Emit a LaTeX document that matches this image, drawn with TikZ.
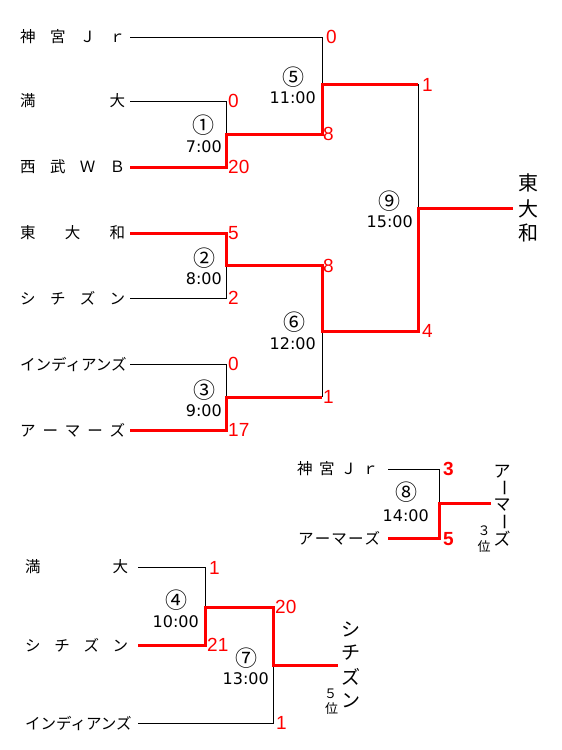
\documentclass[tikz,border=0pt]{standalone}
\usepackage{fontspec}
\setmainfont{Liberation Sans}
\newfontfamily\jp{Noto Sans CJK JP}
\newfontfamily\dv{DejaVu Sans}
\begin{document}
\begin{tikzpicture}[x=1pt,y=-1pt,
  bl/.style={line width=1pt, black},
  rd/.style={line width=3pt, red},
  team/.style={anchor=west, inner sep=0pt, font=\jp\fontsize{15.5}{15.5}\selectfont},
  score/.style={anchor=west, inner sep=0pt, text=red, font=\fontsize{19}{19}\selectfont},
  mno/.style={inner sep=0pt, font=\jp\fontsize{22}{22}\selectfont},
  mtime/.style={anchor=east, inner sep=0pt, font=\dv\fontsize{16}{16}\selectfont},
  vch/.style={inner sep=0pt},
  rank/.style={inner sep=0pt, font=\jp\fontsize{13}{13}\selectfont}]
\fill[white] (0,0) rectangle (562,750);
\useasboundingbox (0,0) rectangle (562,750);

% ---------- main bracket: team names
\node[team] (n1) at (20,37)  {\makebox[105pt][l]{神\hfill 宮\hfill Ｊ\hfill ｒ}};
\node[team] (n2) at (20,101) {\makebox[105pt][l]{満\hfill 大}};
\node[team] (n3) at (20,167) {\makebox[105pt][l]{西\hfill 武\hfill Ｗ\hfill Ｂ}};
\node[team] (n4) at (20,233) {\makebox[105pt][l]{東\hfill 大\hfill 和}};
\node[team] (n5) at (20,298) {\makebox[105pt][l]{シ\hfill チ\hfill ズ\hfill ン}};
\node[team] (n6) at (20,364) {\makebox[105pt][l]{インディアンズ}};
\node[team] (n7) at (20,430) {\makebox[105pt][l]{ア\hfill ー\hfill マ\hfill ー\hfill ズ}};

\coordinate (s1) at (130,37);
\coordinate (s2) at (130,101);
\coordinate (s3) at (130,167);
\coordinate (s4) at (130,233);
\coordinate (s5) at (130,298);
\coordinate (s6) at (130,364);
\coordinate (s7) at (130,430);
\coordinate (j1) at (226,134);
\coordinate (j2) at (226,265);
\coordinate (j3) at (226,397);
\coordinate (j5) at (322,84);
\coordinate (j6) at (322,331);
\coordinate (j9) at (418,208);
\coordinate (w9) at (513,208);

\draw[bl] (s1) -| (j5);
\draw[bl] (s2) -| (j1);
\draw[bl] (s5) -| (j2);
\draw[bl] (s6) -| (j3);
\draw[bl] (j3 -| j6) -- (j6);
\draw[bl] (j5 -| j9) -- (j9);
\draw[rd] (s3) -| (j1) -- (j1 -| j5) -- (j5) -- (j5 -| j9);
\draw[rd] (s4) -| (j2) -- (j2 -| j6) -- (j6) -- (j6 -| j9) -- (j9) -- (w9);
\draw[rd] (s7) -| (j3) -- (j3 -| j6);

% scores
\node[score] (c1) at (326,37) {0};
\node[score] (c2) at (228,101) {0};
\node[score] (c3) at (228,167) {20};
\node[score] (c4) at (323,134) {8};
\node[score] (c5) at (422,85) {1};
\node[score] (c6) at (228,233) {5};
\node[score] (c7) at (228,298) {2};
\node[score] (c8) at (323,266) {8};
\node[score] (c9) at (228,364) {0};
\node[score] (c10) at (228,430) {17};
\node[score] (c11) at (323,397) {1};
\node[score] (c12) at (422,331) {4};

% match labels
\node[mno] (m1) at (203.5,125.5) {①};
\node[mtime] (t1) at (222,147) {7:00};
\node[mno] (m2) at (204.5,258) {②};
\node[mtime] (t2) at (222,278.5) {8:00};
\node[mno] (m3) at (204,390) {③};
\node[mtime] (t3) at (222,411) {9:00};
\node[mno] (m5) at (293.5,77) {⑤};
\node[mtime] (t5) at (316,98) {11:00};
\node[mno] (m6) at (294,322.5) {⑥};
\node[mtime] (t6) at (316,343.5) {12:00};
\node[mno] (m9) at (389.5,201) {⑨};
\node[mtime] (t9) at (413,222) {15:00};

% champion
\node[vch, font=\jp\fontsize{20}{20}\selectfont] (v1) at (528,183) {東};
\node[vch, font=\jp\fontsize{20}{20}\selectfont] (v2) at (528,208.5) {大};
\node[vch, font=\jp\fontsize{20}{20}\selectfont] (v3) at (528,232.5) {和};

% ---------- third place
\node[team] (p1) at (297,469) {\makebox[81pt][l]{神\hfill 宮\hfill Ｊ\hfill ｒ}};
\node[team] (p2) at (298,538) {\makebox[82pt][l]{ア\hfill ー\hfill マ\hfill ー\hfill ズ}};
\coordinate (q1) at (388,469);
\coordinate (q2) at (388,538);
\coordinate (k8) at (439,503);
\coordinate (w8) at (491,503);
\draw[bl] (q1) -| (k8);
\draw[rd] (q2) -| (k8) -- (w8);
\node[score, font=\bfseries\fontsize{19}{19}\selectfont] (c13) at (443,469) {3};
\node[score, font=\bfseries\fontsize{19}{19}\selectfont] (c14) at (443,539) {5};
\node[mno] (m8) at (406.5,492.5) {⑧};
\node[mtime] (t8) at (429,515.5) {14:00};
\node[vch, font=\jp\fontsize{17}{17}\selectfont] (x1) at (502,471.5) {ア};
\node[vch, font=\jp\fontsize{17}{17}\selectfont, rotate=-90] (x2) at (502,488) {ー};
\node[vch, font=\jp\fontsize{17}{17}\selectfont] (x3) at (502,505) {マ};
\node[vch, font=\jp\fontsize{17}{17}\selectfont, rotate=-90] (x4) at (502,522) {ー};
\node[vch, font=\jp\fontsize{17}{17}\selectfont] (x5) at (502,539) {ズ};
\node[rank] (r3a) at (484,531) {３};
\node[rank] (r3b) at (484,547) {位};

% ---------- fifth place
\node[team] (b1) at (25,567) {\makebox[103pt][l]{満\hfill 大}};
\node[team] (b2) at (25,645) {\makebox[103pt][l]{シ\hfill チ\hfill ズ\hfill ン}};
\node[team] (b3) at (25,723) {\makebox[103pt][l]{インディアンズ}};
\coordinate (r1) at (138,567);
\coordinate (r2) at (138,645);
\coordinate (r3) at (138,723);
\coordinate (k4) at (205,607);
\coordinate (k7) at (273,665);
\coordinate (w7) at (338,665);
\draw[bl] (r1) -| (k4);
\draw[bl] (r3) -| (k7);
\draw[rd] (r2) -| (k4) -- (k4 -| k7) -- (k7) -- (w7);
\node[score] (c15) at (209,568) {1};
\node[score] (c16) at (207,645) {21};
\node[score] (c17) at (275,606.5) {20};
\node[score] (c18) at (276,723) {1};
\node[mno] (m4) at (176.5,600) {④};
\node[mtime] (t4) at (199,621.5) {10:00};
\node[mno] (m7) at (246.5,658.5) {⑦};
\node[mtime] (t7) at (269,679) {13:00};
\node[vch, font=\jp\fontsize{19}{19}\selectfont] (y1) at (351,629.5) {シ};
\node[vch, font=\jp\fontsize{19}{19}\selectfont] (y2) at (351,653) {チ};
\node[vch, font=\jp\fontsize{19}{19}\selectfont] (y3) at (351,677) {ズ};
\node[vch, font=\jp\fontsize{19}{19}\selectfont] (y4) at (351,700.5) {ン};
\node[rank] (r5a) at (330.5,694) {５};
\node[rank] (r5b) at (331.5,709) {位};
\end{tikzpicture}
\end{document}
